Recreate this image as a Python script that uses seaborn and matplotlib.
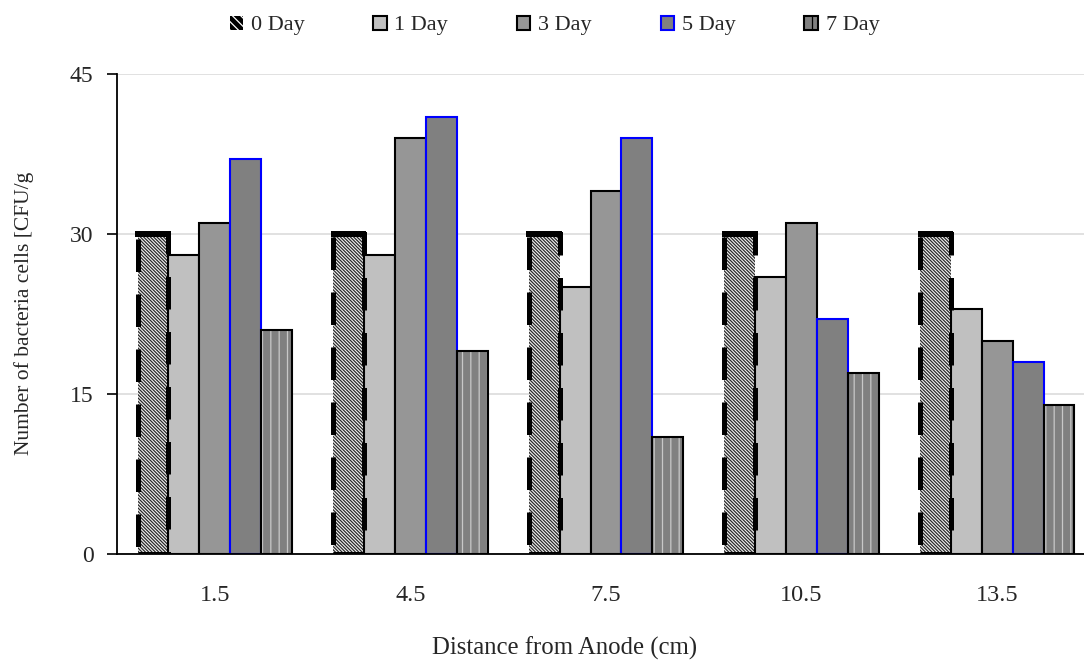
import matplotlib
matplotlib.use("Agg")
import matplotlib.pyplot as plt
from matplotlib.patches import Rectangle, Patch
import seaborn as sns
import pandas as pd

distances = ["1.5", "4.5", "7.5", "10.5", "13.5"]
days = ["0 Day", "1 Day", "3 Day", "5 Day", "7 Day"]
day0 = [30, 30, 30, 30, 30]
day1 = [28, 28, 25, 26, 23]
day3 = [31, 39, 34, 31, 20]
day5 = [37, 41, 39, 22, 18]
day7 = [21, 19, 11, 17, 14]
y_ticks = [0, 15, 30, 45]

series = [day0, day1, day3, day5, day7]
rows = []
for d, vals in zip(days, series):
    for dist, v in zip(distances, vals):
        rows.append({"Distance": dist, "Day": d, "Value": v})
df = pd.DataFrame(rows)

sns.set_style("white")
plt.rcParams["font.family"] = ["Liberation Serif", "DejaVu Serif"]
plt.rcParams["hatch.linewidth"] = 0.9

fig = plt.figure(figsize=(10.84, 6.63), dpi=100)
ax = fig.add_axes([117 / 1084, 109 / 663, 978 / 1084, 480 / 663])

face = ["#bdbdbd", "#c0c0c0", "#969696", "#808080", "#8a8a8a"]
sns.barplot(data=df, x="Distance", y="Value", hue="Day", order=distances,
            hue_order=days, palette=face, width=0.79, dodge=True,
            edgecolor="black", linewidth=1.5, ax=ax, legend=False,
            saturation=1, zorder=3)

for i, cont in enumerate(ax.containers):
    for p in cont:
        if i == 0:
            p.set_facecolor("#f4f4f4")
            p.set_edgecolor("#2a2a2a")
            p.set_hatch("\\\\\\\\\\\\\\\\\\\\")
            p.set_linewidth(0)
            x, y = p.get_xy()
            w, h = p.get_width(), p.get_height()
            r = Rectangle((x, y), w, h, fill=False,
                          edgecolor="black", linewidth=3.6,
                          linestyle=(0, (6.5, 4.5)), zorder=4)
            ax.add_patch(r)
            top = Rectangle((x - 0.012, y + h - 0.3), w + 0.024, 0.55,
                            facecolor="black", edgecolor="none", zorder=5)
            ax.add_patch(top)
        elif i == 3:
            p.set_edgecolor("#0000ff")
            p.set_linewidth(1.5)
        elif i == 4:
            p.set_facecolor("#808080")
            p.set_edgecolor("#c8c8c8")
            p.set_hatch("||")
            p.set_linewidth(0)
            x, y = p.get_xy()
            r = Rectangle((x, y), p.get_width(), p.get_height(), fill=False,
                          edgecolor="black", linewidth=1.5, zorder=4)
            ax.add_patch(r)

ax.set_xlim(-0.5, 4.5)
ax.set_ylim(0, 45)
ax.set_yticks(y_ticks)
ax.set_yticklabels([str(t) for t in y_ticks], fontsize=17)
ax.set_xticks(range(len(distances)))
ax.set_xticklabels(distances, fontsize=17.5)
ax.set_xticks([i - 0.5 for i in range(len(distances) + 1)], minor=True)
ax.tick_params(axis="x", which="major", length=0, pad=22.5)
ax.tick_params(axis="x", which="minor", length=6, width=1.2, direction="out", color="black")
ax.tick_params(axis="y", which="major", length=7, width=1.2, direction="out",
               color="black", pad=10, left=True)

ax.yaxis.grid(True, color="#dcdcdc", linewidth=1.2, zorder=0)
ax.set_axisbelow(True)
for s in ["top", "right"]:
    ax.spines[s].set_visible(False)
for s in ["left", "bottom"]:
    ax.spines[s].set_color("black")
    ax.spines[s].set_linewidth(1.3)
ax.spines["bottom"].set_zorder(6)

ax.set_xlabel("Distance from Anode (cm)", fontsize=17.8)
ax.xaxis.label.set_verticalalignment("center")
ax.xaxis.set_label_coords((565 - 117) / 978, -94 / 480)
ax.set_ylabel("Number of bacteria cells [CFU/g", fontsize=15.5)
ax.yaxis.label.set_verticalalignment("center")
ax.yaxis.set_label_coords((24 - 117) / 978, (554 - 313) / 480)

handles = [
    Patch(facecolor="black", edgecolor="white", hatch="\\\\\\\\", linewidth=0),
    Patch(facecolor="#c0c0c0", edgecolor="black", linewidth=1.5),
    Patch(facecolor="#969696", edgecolor="black", linewidth=1.5),
    Patch(facecolor="#808080", edgecolor="#0000ff", linewidth=1.5),
    Patch(facecolor="#808080", edgecolor="black", hatch="||", linewidth=1.5),
]
fig.legend(handles, days, loc="upper center", bbox_to_anchor=(0.5115, 1.0),
           ncol=5, frameon=False, fontsize=16, handlelength=0.6,
           handleheight=0.6, handletextpad=0.35, columnspacing=3.1,
           borderaxespad=0.3)

fig.savefig("out.png", dpi=100)
